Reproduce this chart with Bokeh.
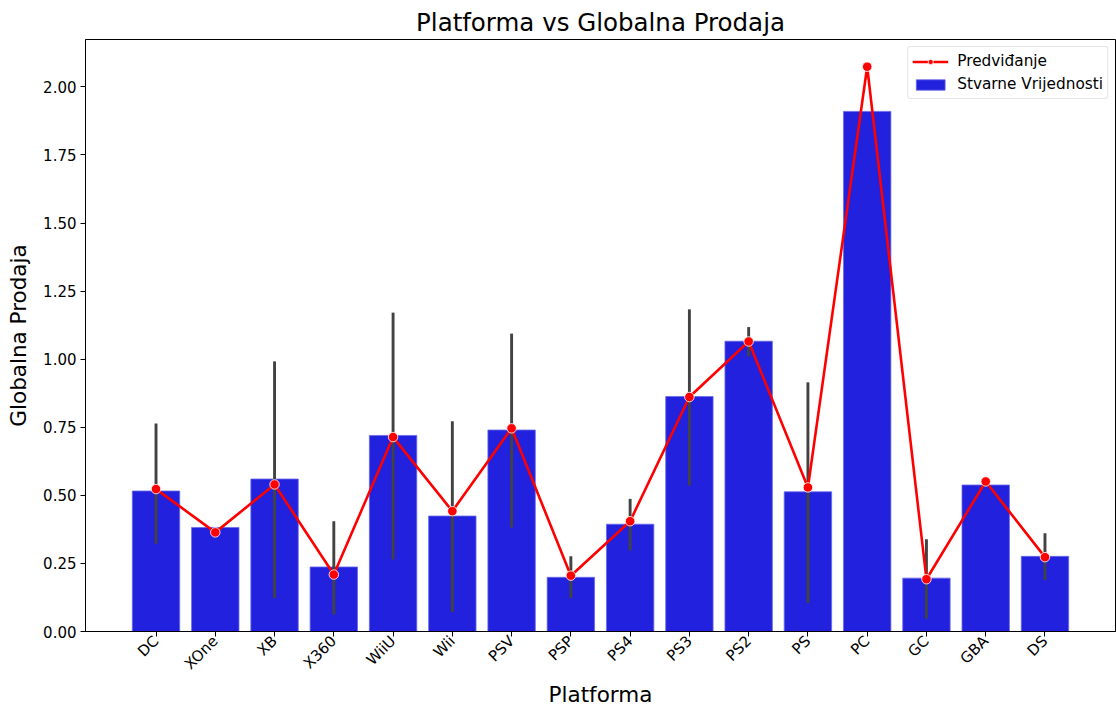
import math
from bokeh.plotting import figure
from bokeh.models import (FactorRange, Range1d, FixedTicker, PrintfTickFormatter,
                          Legend, LegendItem, ColumnDataSource)
from bokeh.embed import file_html
from bokeh.resources import INLINE

platforms = ["DC", "XOne", "XB", "X360", "WiiU", "Wii", "PSV", "PSP", "PS4",
             "PS3", "PS2", "PS", "PC", "GC", "GBA", "DS"]
actual = [0.516, 0.382, 0.560, 0.237, 0.720, 0.424, 0.740, 0.199, 0.394,
          0.863, 1.066, 0.513, 1.910, 0.196, 0.538, 0.276]
predicted = [0.523, 0.364, 0.540, 0.209, 0.714, 0.442, 0.746, 0.205, 0.405,
             0.861, 1.065, 0.529, 2.074, 0.192, 0.551, 0.273]
err_low = [0.322, None, 0.123, 0.062, 0.264, 0.072, 0.382, 0.123, 0.297,
           0.536, 1.010, 0.105, None, 0.047, None, 0.189]
err_high = [0.764, None, 0.992, 0.405, 1.171, 0.772, 1.094, 0.276, 0.487,
            1.183, 1.118, 0.915, None, 0.339, None, 0.361]
y_ticks = [0.0, 0.25, 0.5, 0.75, 1.0, 1.25, 1.5, 1.75, 2.0]

FONT = "DejaVu Sans"

p = figure(width=1116, height=710, output_backend="svg", toolbar_location=None,
           x_range=FactorRange(factors=platforms, range_padding=0.69,
                               range_padding_units="absolute"),
           y_range=Range1d(0, 2.174),
           min_border_left=85, min_border_right=1, min_border_top=39,
           min_border_bottom=77)

p.title.text = "Platforma vs Globalna Prodaja"
p.title.align = "center"
p.title.text_font = FONT
p.title.text_font_size = "24.5px"
p.title.text_font_style = "normal"
p.title.text_color = "#000000"
p.title.standoff = 6

p.xgrid.visible = False
p.ygrid.visible = False
p.outline_line_color = "#000000"
p.outline_line_width = 1
p.background_fill_color = "white"
p.border_fill_color = "white"

src = ColumnDataSource(dict(x=platforms, top=actual, pred=predicted))

bars = p.vbar(x="x", top="top", width=0.8, source=src, fill_color="#2121de",
              line_color="#6a6ae8", line_width=0.8)

ex = [c for c, lo in zip(platforms, err_low) if lo is not None]
elo = [lo for lo in err_low if lo is not None]
ehi = [hi for hi in err_high if hi is not None]
p.segment(x0=ex, y0=elo, x1=ex, y1=ehi, line_color="#424242", line_width=2.9)

line = p.line(x="x", y="pred", source=src, line_color="#ff0000", line_width=2.6)
dots = p.scatter(x="x", y="pred", source=src, marker="circle", size=9.5,
                 fill_color="#ff0000", line_color="#ffffff", line_width=0.8)

legend = Legend(items=[LegendItem(label="Predviđanje", renderers=[line, dots]),
                       LegendItem(label="Stvarne Vrijednosti", renderers=[bars])],
                location="top_right")
legend.label_text_font = FONT
legend.label_text_font_size = "15.3px"
legend.label_text_color = "#000000"
legend.border_line_color = "#cccccc"
legend.border_line_width = 1
legend.border_radius = 3
legend.padding = 4
legend.spacing = 3
legend.margin = 7
legend.glyph_width = 36
legend.glyph_height = 13
legend.label_standoff = 9
legend.label_height = 20
legend.background_fill_alpha = 0.8
p.add_layout(legend)

for ax in (p.xaxis[0], p.yaxis[0]):
    ax.axis_line_color = "#000000"
    ax.major_tick_line_color = "#000000"
    ax.major_tick_out = 5
    ax.major_tick_in = 0
    ax.minor_tick_line_color = None
    ax.major_label_text_font = FONT
    ax.major_label_text_font_size = "15px"
    ax.major_label_text_color = "#000000"
    ax.axis_label_text_font = FONT
    ax.axis_label_text_font_size = "21.5px"
    ax.axis_label_text_font_style = "normal"
    ax.axis_label_text_color = "#000000"

p.xaxis.axis_label = "Platforma"
p.xaxis.major_label_orientation = math.pi / 4
p.xaxis.major_label_standoff = 2
p.xaxis.axis_label_standoff = 0
p.yaxis.axis_label = "Globalna Prodaja"
p.yaxis.ticker = FixedTicker(ticks=y_ticks)
p.yaxis.formatter = PrintfTickFormatter(format="%.2f")
p.yaxis.major_label_standoff = 4
p.yaxis.axis_label_standoff = 9

open("out.html", "w").write(file_html(p, INLINE))
